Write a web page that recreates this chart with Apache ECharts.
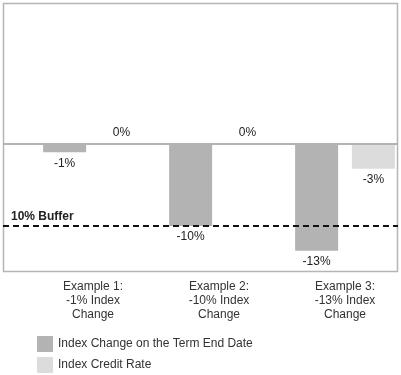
<!DOCTYPE html>
<html><head><meta charset="utf-8">
<script src="https://cdn.jsdelivr.net/npm/echarts@6/dist/echarts.min.js"></script>
<style>html,body{margin:0;padding:0;background:#fff}#c{width:401px;height:375px}</style>
</head><body><div id="c"></div>
<script>
var categories = ['Example 1:\n-1% Index\nChange', 'Example 2:\n-10% Index\nChange', 'Example 3:\n-13% Index\nChange'];
var indexChange = [-1, -10, -13];
var creditRate = [0, 0, -3];
var bufferLevel = -10;
var seriesNames = ['Index Change on the Term End Date', 'Index Credit Rate'];

var FONT = '"Liberation Sans", Arial, sans-serif';
function pct(p) { return p.value + '%'; }
function mapData(arr) {
  return arr.map(function (v) { return { value: v, label: { position: v < 0 ? 'bottom' : 'top' } }; });
}
function legendFor(name, top) {
  return {
    data: [name], left: 32, top: top, itemWidth: 16, itemHeight: 16, icon: 'rect',
    textStyle: { fontSize: 12, color: '#333', fontFamily: FONT }, selectedMode: false
  };
}
var chart = echarts.init(document.getElementById('c'));
chart.setOption({
  animation: false,
  textStyle: { fontFamily: FONT },
  grid: { left: 30, top: 4, width: 378, height: 268, outerBoundsMode: 'none', containLabel: false },
  graphic: [{ type: 'rect', shape: { x: 3.5, y: 3.5, width: 394, height: 268 }, style: { fill: 'none', stroke: '#b5b5b5', lineWidth: 1.5 }, silent: true }],
  legend: [legendFor(seriesNames[0], 331), legendFor(seriesNames[1], 352)],
  xAxis: {
    type: 'category', data: categories,
    axisLine: { show: false }, axisTick: { show: false },
    axisLabel: { margin: 8, fontSize: 12, lineHeight: 14, color: '#333', fontFamily: FONT }
  },
  yAxis: { type: 'value', min: -15.6, max: 17.08, show: false, splitLine: { show: false } },
  series: [
    {
      name: seriesNames[0], type: 'bar', data: mapData(indexChange), barWidth: 43, barGap: '32%',
      itemStyle: { color: '#b3b3b3' },
      label: { show: true, formatter: pct, distance: 5, fontSize: 12, color: '#222', fontFamily: FONT },
      markLine: {
        silent: true, symbol: 'none', z: 10,
        data: [
          [{ x: 3, yAxis: 0, lineStyle: { color: '#b3b3b3', width: 2, type: 'solid' }, label: { show: false } },
           { x: 398, yAxis: 0 }],
          [{ x: 3, yAxis: bufferLevel, lineStyle: { color: '#111', width: 2, type: [6, 4] },
             label: { show: true, position: 'insideStartTop', formatter: '10% Buffer', fontWeight: 'bold', fontSize: 12, color: '#222', distance: [8, 3], fontFamily: FONT } },
           { x: 398, yAxis: bufferLevel }]
        ]
      }
    },
    {
      name: seriesNames[1], type: 'bar', data: mapData(creditRate), barWidth: 43,
      itemStyle: { color: '#dcdcdc' },
      label: { show: true, formatter: pct, distance: 5, fontSize: 12, color: '#222', fontFamily: FONT }
    }
  ]
});
</script></body></html>
